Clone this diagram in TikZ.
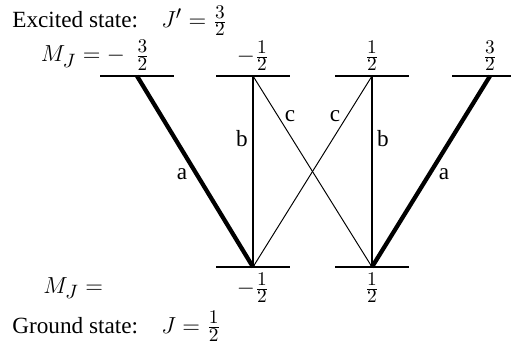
\documentclass[tikz,border=0pt]{standalone}
\usepackage{fontspec}
\setmainfont{Liberation Serif}
\DeclareMathSizes{12}{12}{10}{7}
\usetikzlibrary{calc,positioning}
\tikzset{
  levelline/.style={line width=1pt},
  stronglink/.style={line width=2.2pt},
  midlink/.style={line width=1.5pt},
  weaklink/.style={line width=0.5pt},
  mjlabel/.style={inner sep=1pt},
  translabel/.style={inner sep=0pt, anchor=base},
  statetext/.style={inner sep=0pt, anchor=base west}
}

\begin{document}
\begin{tikzpicture}[x=0.517pt,y=-0.517pt,font=\fontsize{12}{14}\selectfont]
  \useasboundingbox (0,0) rectangle (516,344);
  % upper levels (J'=3/2) and lower levels (J=1/2)
  \coordinate (u1) at (137,76);
  \coordinate (u2) at (253,76);
  \coordinate (u3) at (372,76);
  \coordinate (u4) at (490,76);
  \coordinate (g1) at (253,267);
  \coordinate (g2) at (372,267);
  \draw[levelline] ($(u1)+(-37,0)$) -- ($(u1)+(37,0)$);
  \draw[levelline] ($(u2)+(-37,0)$) -- ($(u2)+(37,0)$);
  \draw[levelline] ($(u3)+(-37,0)$) -- ($(u3)+(37,0)$);
  \draw[levelline] ($(u4)+(-38,0)$) -- ($(u4)+(21,0)$);
  \draw[levelline] ($(g1)+(-37,0)$) -- ($(g1)+(37,0)$);
  \draw[levelline] ($(g2)+(-37,0)$) -- ($(g2)+(37,0)$);

  % transitions
  \draw[stronglink] (u1) -- (g1);
  \draw[stronglink] (u4) -- (g2);
  \draw[midlink] (u2) -- (g1);
  \draw[midlink] (u3) -- (g2);
  \draw[weaklink] (u2) -- (g2);
  \draw[weaklink] (u3) -- (g1);
  \node[translabel] (la1) at (182,180) {a};
  \node[translabel] (lb1) at (242,147) {b};
  \node[translabel] (lc1) at (290,122) {c};
  \node[translabel] (lc2) at (335,122) {c};
  \node[translabel] (lb2) at (383,147) {b};
  \node[translabel] (la2) at (444,180) {a};

  % labels
  \node[statetext] (exc) at (12,28) {Excited state:\quad$J' = \frac{3}{2}$};
  \node[inner sep=0pt, anchor=base east] (mju) at (150,62) {$M_J = -\;\,\frac{3}{2}$};
  \node[mjlabel, above=1.5pt of u2] (mu2) {$-\frac{1}{2}$};
  \node[mjlabel, above=1.5pt of u3] (mu3) {$\frac{1}{2}$};
  \node[mjlabel, above=1.5pt of u4] (mu4) {$\frac{3}{2}$};
  \node[statetext] (mjg) at (43,293) {$M_J =$};
  \node[mjlabel, below=2pt of g1] (mg1) {$-\frac{1}{2}$};
  \node[mjlabel, below=2pt of g2] (mg2) {$\frac{1}{2}$};
  \node[statetext] (gnd) at (12,333) {Ground state:\quad$J = \frac{1}{2}$};
\end{tikzpicture}
\end{document}
